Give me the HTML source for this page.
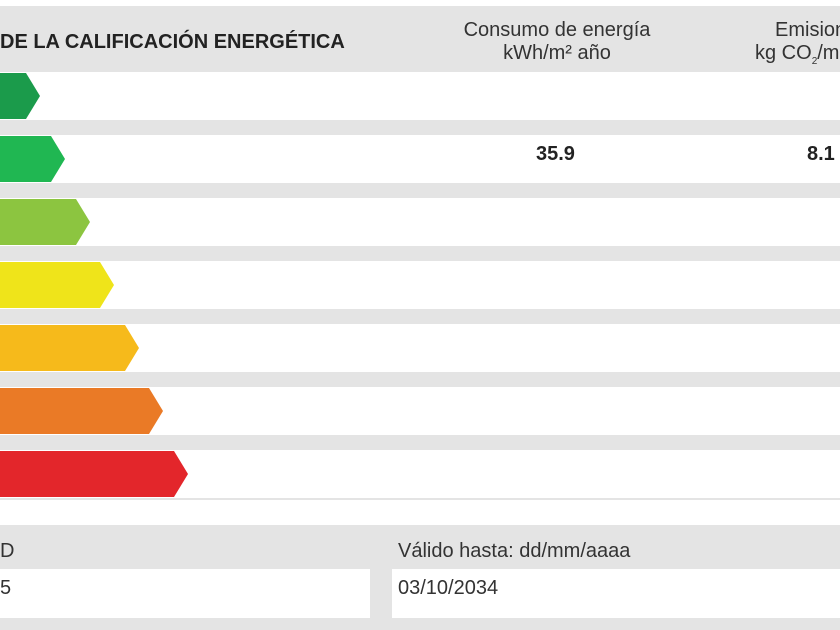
<!DOCTYPE html>
<html><head><meta charset="utf-8"><style>
body{margin:0;width:840px;height:630px;overflow:hidden;background:#fff;font-family:"Liberation Sans",sans-serif;position:relative}
div{position:absolute}
.row{left:0;width:840px;height:48px;background:#fff}
.t{white-space:nowrap;color:#333}
</style></head><body>
<div style="left:0;top:6px;width:840px;height:494px;background:#e4e4e4"></div>
<div class="t" style="left:0;top:31px;font-size:20px;font-weight:bold;color:#222">DE LA CALIFICACIÓN ENERGÉTICA</div>
<div class="t" style="left:420px;top:19px;width:274px;text-align:center;font-size:20px;line-height:23px">Consumo de energía<br>kWh/m² año</div>
<div class="t" style="left:775px;top:19px;font-size:20px;line-height:23px">Emision</div>
<div class="t" style="left:755px;top:42px;font-size:20px;line-height:23px">kg CO<sub style="font-size:10px">2</sub>/m</div>
<div class="row" style="top:72px"></div>
<div class="row" style="top:135px"></div>
<div class="row" style="top:198px"></div>
<div class="row" style="top:261px"></div>
<div class="row" style="top:324px"></div>
<div class="row" style="top:387px"></div>
<div class="row" style="top:450px"></div>
<svg style="position:absolute;left:0;top:0" width="840" height="630">
<polygon points="0,73 26,73 40,96 26,119 0,119" fill="#1b9b4b"/>
<polygon points="0,136 51,136 65,159 51,182 0,182" fill="#20b752"/>
<polygon points="0,199 76,199 90,222 76,245 0,245" fill="#8cc540"/>
<polygon points="0,262 100,262 114,285 100,308 0,308" fill="#efe41a"/>
<polygon points="0,325 125,325 139,348 125,371 0,371" fill="#f6ba1b"/>
<polygon points="0,388 149,388 163,411 149,434 0,434" fill="#ea7a26"/>
<polygon points="0,451 174,451 188,474 174,497 0,497" fill="#e3262b"/>
</svg>
<div class="t" style="left:536px;top:143px;font-size:20px;font-weight:bold;color:#222">35.9</div>
<div class="t" style="left:807px;top:143px;font-size:20px;font-weight:bold;color:#222">8.1</div>
<div style="left:0;top:525px;width:840px;height:105px;background:#e4e4e4"></div>
<div class="t" style="left:0;top:540px;font-size:20px">D</div>
<div class="t" style="left:398px;top:540px;font-size:20px">Válido hasta: dd/mm/aaaa</div>
<div style="left:0;top:569px;width:370px;height:49px;background:#fff"></div>
<div style="left:392px;top:569px;width:448px;height:49px;background:#fff"></div>
<div class="t" style="left:0;top:577px;font-size:20px">5</div>
<div class="t" style="left:398px;top:577px;font-size:20px">03/10/2034</div>
</body></html>
